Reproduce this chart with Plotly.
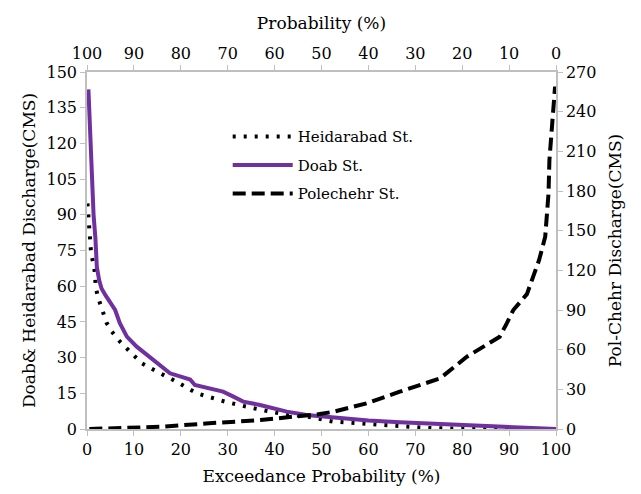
import plotly.graph_objects as go

# Doab St. (left axis)
doab_x = [0.3, 0.6, 1.0, 1.2, 1.4, 1.8, 2.1, 2.6, 3.1, 4.0, 4.9, 6.0, 7.0, 8.5, 10.6, 12.5, 14.9, 17.7, 20.0, 22.0, 23.0, 26.0, 29.0, 31.0, 33.3, 36.9, 40.0, 42.6, 46.8, 52.5, 60.0, 66.7, 74.0, 81.0, 90.0, 100.0]
doab_y = [142.7, 125.0, 103.0, 96.0, 90.0, 80.0, 68.0, 62.5, 59.0, 56.0, 53.5, 50.0, 44.5, 38.8, 34.6, 31.5, 27.6, 23.4, 22.0, 20.8, 18.5, 17.0, 15.7, 13.8, 11.5, 10.1, 8.6, 7.3, 5.9, 4.8, 3.6, 2.8, 2.2, 1.7, 0.9, 0.0]

# Heidarabad St. (left axis)
heid_x = [0.1, 0.5, 0.85, 1.6, 1.9, 2.4, 3.1, 4.2, 5.3, 6.7, 8.8, 11.7, 14.9, 18.4, 23.4, 29.4, 35.5, 41.0, 47.5, 52.5, 63.0, 74.0, 85.0, 100.0]
heid_y = [94.8, 82.3, 74.5, 66.8, 59.2, 55.0, 50.8, 44.5, 40.9, 37.4, 33.2, 27.6, 24.1, 20.6, 15.0, 11.5, 8.7, 6.6, 5.0, 3.1, 1.7, 0.3, 0.1, 0.0]

# Polechehr St. (right axis)
pole_x = [0.5, 15.6, 26.0, 37.0, 44.0, 49.0, 52.5, 59.6, 66.7, 75.3, 81.0, 88.0, 89.5, 90.9, 93.8, 96.4, 97.7, 98.4, 98.6, 99.1, 99.8]
pole_y = [0.0, 1.7, 4.3, 6.8, 9.3, 11.0, 13.0, 19.4, 28.2, 38.3, 54.7, 69.8, 79.9, 90.0, 102.0, 127.8, 145.4, 178.0, 203.5, 228.7, 259.0]

x_ticks = list(range(0, 101, 10))
left_ticks = list(range(0, 151, 15))
right_ticks = list(range(0, 271, 30))

FONT = "DejaVu Serif"
AX = "#bfbfbf"
TICK_SIZE = 16
TITLE_SIZE = 17

fig = go.Figure()
fig.add_trace(go.Scatter(x=heid_x, y=heid_y, name="Heidarabad St.", mode="lines", legendgroup="a",
                         line=dict(color="black", width=4, dash="3px,8px"), xaxis="x", yaxis="y"))
fig.add_trace(go.Scatter(x=doab_x, y=doab_y, name="Doab St.", mode="lines", legendgroup="b",
                         line=dict(color="#7030A0", width=4), xaxis="x", yaxis="y"))
fig.add_trace(go.Scatter(x=pole_x, y=pole_y, name="Polechehr St.", mode="lines", legendgroup="c",
                         line=dict(color="black", width=4, dash="13px,6px"), xaxis="x", yaxis="y2"))
# dummy trace so the top axis renders
fig.add_trace(go.Scatter(x=[100, 0], y=[0, 0], mode="lines", line=dict(width=0),
                         showlegend=False, hoverinfo="skip", xaxis="x2", yaxis="y"))

axis_common = dict(showgrid=False, zeroline=False, showline=True, linecolor=AX, linewidth=1.5,
                   ticks="outside", tickcolor=AX, ticklen=5,
                   tickfont=dict(family=FONT, size=TICK_SIZE, color="black"))

fig.update_layout(
    width=641, height=494,
    margin=dict(l=87, r=85, t=72, b=65),
    paper_bgcolor="white", plot_bgcolor="white",
    font=dict(family=FONT, size=TICK_SIZE, color="black"),
    xaxis=dict(range=[0, 100], tickvals=x_ticks, side="bottom",
               title=dict(text="Exceedance Probability (%)", font=dict(family=FONT, size=TITLE_SIZE), standoff=12),
               **axis_common),
    xaxis2=dict(range=[100, 0], tickvals=x_ticks, side="top", overlaying="x", anchor="y",
                title=dict(text="Probability (%)", font=dict(family=FONT, size=TITLE_SIZE), standoff=10),
                **axis_common),
    yaxis=dict(range=[0, 150], tickvals=left_ticks,
               title=dict(text="Doab& Heidarabad Discharge(CMS)", font=dict(family=FONT, size=TITLE_SIZE), standoff=7),
               **axis_common),
    yaxis2=dict(range=[0, 270], tickvals=right_ticks, overlaying="y", side="right", anchor="x",
                title=dict(text="Pol-Chehr Discharge(CMS)", font=dict(family=FONT, size=TITLE_SIZE), standoff=14),
                **axis_common),
    legend=dict(x=0.3, y=0.865, xanchor="left", yanchor="top", bgcolor="rgba(0,0,0,0)",
                font=dict(family=FONT, size=15), itemwidth=60, tracegroupgap=6),
    showlegend=True,
)

fig.write_html("out.html")
